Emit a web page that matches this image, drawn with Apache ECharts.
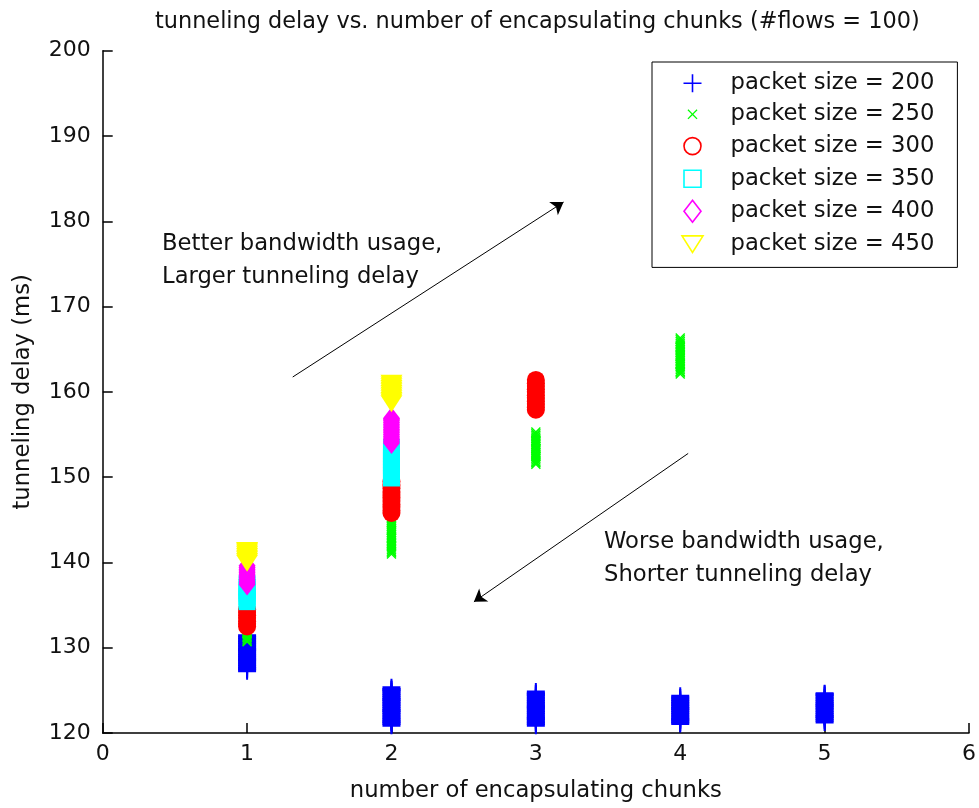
<!DOCTYPE html>
<html>
<head>
<meta charset="utf-8">
<script src="https://cdn.jsdelivr.net/npm/echarts@6/dist/echarts.min.js"></script>
<style>html,body{margin:0;padding:0;background:#fff}#c{width:979px;height:808px}</style>
</head>
<body>
<div id="c"></div>
<script>
// ---- data ----
const chunks = [1, 2, 3, 4, 5];
const seriesNames = ['packet size = 200','packet size = 250','packet size = 300','packet size = 350','packet size = 400','packet size = 450'];
const xTicks = [0, 1, 2, 3, 4, 5, 6];
const yTicks = [120, 130, 140, 150, 160, 170, 180, 190, 200];

// tunneling delay samples (ms) per number of chunks
const delay200 = [
  [127.3,127.5,127.6,127.8,128.0,128.2,128.4,128.6,128.7,128.9,129.1,129.3,129.5,129.7,129.8,130.0,130.2,130.4,130.6,130.8,131.0,131.2,131.4],
  [120.9,121.1,121.3,121.4,121.6,121.8,122.0,122.2,122.4,122.6,122.7,122.9,123.1,123.3,123.5,123.7,123.9,124.0,124.2,124.4,124.6,124.8,125.0,125.1,125.3],
  [120.9,121.1,121.3,121.5,121.7,121.8,122.0,122.2,122.4,122.6,122.8,123.0,123.1,123.3,123.5,123.7,123.9,124.1,124.3,124.5,124.6,124.8],
  [121.1,121.3,121.5,121.6,121.8,122.0,122.2,122.4,122.6,122.8,122.9,123.1,123.3,123.5,123.7,123.9,124.1,124.3],
  [121.3,121.5,121.7,121.9,122.0,122.2,122.4,122.6,122.8,123.0,123.2,123.3,123.5,123.7,123.9,124.1,124.3,124.5,124.6]
];
const delay250 = [
  [130.7,130.8,131.0,131.2,131.3,131.5,131.7,131.8,132.0],
  [141.0,141.2,141.3,141.5,141.7,141.9,142.0,142.2,142.4,142.6,142.8,142.9,143.1,143.3,143.5,143.7,143.8,144.0,144.2,144.4,144.6,144.7,144.9,145.1,145.3,145.5],
  [151.5,151.7,151.8,152.0,152.2,152.4,152.5,152.7,152.9,153.1,153.3,153.4,153.6,153.8,154.0,154.2,154.3,154.5,154.7,154.9,155.1,155.3],
  [162.1,162.3,162.4,162.6,162.8,163.0,163.2,163.3,163.5,163.7,163.9,164.1,164.2,164.4,164.6,164.8,165.0,165.2,165.3,165.5,165.7,165.9,166.1,166.3],
  []
];
const delay300 = [
  [132.5,132.8,133.1,133.5,133.8,134.2,134.5],
  [145.8,146.1,146.5,146.8,147.2,147.6,147.9,148.3,148.7,149.1,149.5],
  [157.9,158.2,158.6,158.9,159.3,159.6,160.0,160.3,160.7,161.0,161.4],
  [], []
];
const delay350 = [
  [135.4,135.7,136.0,136.4,136.7,137.1,137.5],
  [149.9,150.2,150.6,150.9,151.3,151.7,152.0,152.4,152.7,153.1,153.5],
  [], [], []
];
const delay400 = [
  [137.4,137.6,137.8,138.0,138.2,138.4,138.6,138.8,139.0,139.2,139.4,139.6],
  [154.0,154.2,154.4,154.6,154.8,155.0,155.2,155.4,155.6,155.8,156.0,156.2,156.4,156.6,156.8,156.9],
  [], [], []
];
const delay450 = [
  [139.9,140.1,140.3,140.5,140.7,140.9,141.1,141.3,141.4],
  [158.6,158.8,159.0,159.2,159.4,159.6,159.8,160.0,160.2,160.4,160.6,160.8,161.0],
  [], [], []
];

// annotation arrows (data coordinates: [chunks, delay])
const arrowUpFrom = [1.316, 161.74], arrowUpTo = [3.192, 182.25];
const arrowDownFrom = [4.055, 152.78], arrowDownTo = [2.571, 135.38];
const noteUp = 'Better bandwidth usage,\nLarger tunneling delay';
const noteDown = 'Worse bandwidth usage,\nShorter tunneling delay';

// ---- build ----
function pts(groups) {
  const out = [];
  groups.forEach((vals, i) => vals.forEach(v => out.push([chunks[i], v])));
  return out;
}
const FONT = '"DejaVu Sans", sans-serif';
const FS = 22.7;
const colors = ['#0000ff', '#00ff00', '#ff0000', '#00ffff', '#ff00ff', '#ffff00'];
const plusPath = 'path://M8,0H10V7.5H18V10.5H10V18H8V10.5H0V7.5H8Z';
const xPath = 'path://M0,1L1,0L5,4L9,0L10,1L6,5L10,9L9,10L5,6L1,10L0,9L4,5Z';
const triDownPath = 'path://M0,0L22,0L11,17Z';
const symbols = [plusPath, xPath, 'circle', 'rect', 'diamond', triDownPath];
const sizes = [[18, 18], [10, 10], 18, 17, [17, 22], [22, 17]];
const groups = [delay200, delay250, delay300, delay350, delay400, delay450];

const PAD = 'M-1,-1M25,25';
const legendIcons = [
  'path://' + PAD + 'M11.2,3H12.8V11.2H21V12.8H12.8V21H11.2V12.8H3V11.2H11.2Z',
  'path://' + PAD + 'M7,7.9L7.9,7L12,11.1L16.1,7L17,7.9L12.9,12L17,16.1L16.1,17L12,12.9L7.9,17L7,16.1L11.1,12Z',
  'path://' + PAD + 'M12,3.5A8.5,8.5,0,1,1,11.99,3.5Z',
  'path://' + PAD + 'M3.5,3.5H20.5V20.5H3.5Z',
  'path://' + PAD + 'M12,1L20.5,12L12,23L3.5,12Z',
  'path://' + PAD + 'M1.5,4L22.5,4L12,20.5Z'
];
const legendStyles = [
  {color: colors[0], borderWidth: 0},
  {color: colors[1], borderWidth: 0},
  {color: '#fff', borderColor: colors[2], borderWidth: 1.6},
  {color: '#fff', borderColor: colors[3], borderWidth: 1.6},
  {color: '#fff', borderColor: colors[4], borderWidth: 1.6},
  {color: '#fff', borderColor: colors[5], borderWidth: 1.6}
];

const series = seriesNames.map((name, i) => ({
  name: name,
  type: 'scatter',
  data: pts(groups[i]),
  symbol: symbols[i],
  symbolSize: sizes[i],
  symbolKeepAspect: false,
  itemStyle: {color: colors[i], opacity: 1},
  emphasis: {disabled: true},
  silent: true
}));

series.push({
  name: 'arrows',
  type: 'scatter',
  data: [],
  silent: true,
  markLine: {
    silent: true,
    symbol: ['none', 'arrow'],
    symbolSize: 12,
    label: {show: false},
    lineStyle: {color: '#000', width: 1, type: 'solid'},
    emphasis: {disabled: true},
    data: [
      [{coord: arrowUpFrom}, {coord: arrowUpTo}],
      [{coord: arrowDownFrom}, {coord: arrowDownTo}]
    ]
  }
});

const chart = echarts.init(document.getElementById('c'), null, {renderer: 'canvas'});
const axisText = {color: '#111', fontFamily: FONT, fontSize: 22};
chart.setOption({
  animation: false,
  backgroundColor: '#fff',
  title: {
    text: 'tunneling delay vs. number of encapsulating chunks (#flows = 100)',
    left: 150, top: 6,
    textStyle: {color: '#111', fontFamily: FONT, fontSize: 22.4, fontWeight: 'normal'}
  },
  grid: {left: 102.7, right: 7.3, top: 50.7, bottom: 72.3, containLabel: false},
  legend: {
    orient: 'vertical',
    left: 652, top: 62,
    padding: [8.3, 23, 9.7, 26.7],
    itemWidth: 66,
    itemHeight: 26,
    itemGap: 5,
    symbolKeepAspect: true,
    backgroundColor: '#fff',
    borderColor: '#000',
    borderWidth: 1,
    borderRadius: 0,
    selectedMode: false,
    textStyle: {color: '#111', fontFamily: FONT, fontSize: FS, lineHeight: 26},
    data: seriesNames.map((n, i) => ({name: n, icon: legendIcons[i], itemStyle: legendStyles[i]}))
  },
  xAxis: {
    type: 'value', min: xTicks[0], max: xTicks[xTicks.length - 1], interval: 1,
    name: 'number of encapsulating chunks', nameLocation: 'middle', nameGap: 47,
    nameTextStyle: {color: '#111', fontFamily: FONT, fontSize: FS},
    axisLine: {show: true, lineStyle: {color: '#000', width: 1.5}},
    axisTick: {show: true, inside: true, length: 10, lineStyle: {color: '#000', width: 1.5}},
    axisLabel: Object.assign({margin: 10}, axisText),
    splitLine: {show: false}
  },
  yAxis: {
    type: 'value', min: yTicks[0], max: yTicks[yTicks.length - 1], interval: 10,
    name: 'tunneling delay (ms)', nameLocation: 'middle', nameGap: 68,
    nameTextStyle: {color: '#111', fontFamily: FONT, fontSize: FS},
    axisLine: {show: true, lineStyle: {color: '#000', width: 1.5}},
    axisTick: {show: true, inside: true, length: 10, lineStyle: {color: '#000', width: 1.5}},
    axisLabel: Object.assign({margin: 12}, axisText),
    splitLine: {show: false}
  },
  graphic: [
    {type: 'text', left: 162, top: 228, silent: true,
     style: {text: noteUp, font: FS + 'px ' + FONT, fill: '#111', lineHeight: 33}},
    {type: 'text', left: 604, top: 526, silent: true,
     style: {text: noteDown, font: FS + 'px ' + FONT, fill: '#111', lineHeight: 33}}
  ],
  series: series
});
</script>
</body>
</html>
